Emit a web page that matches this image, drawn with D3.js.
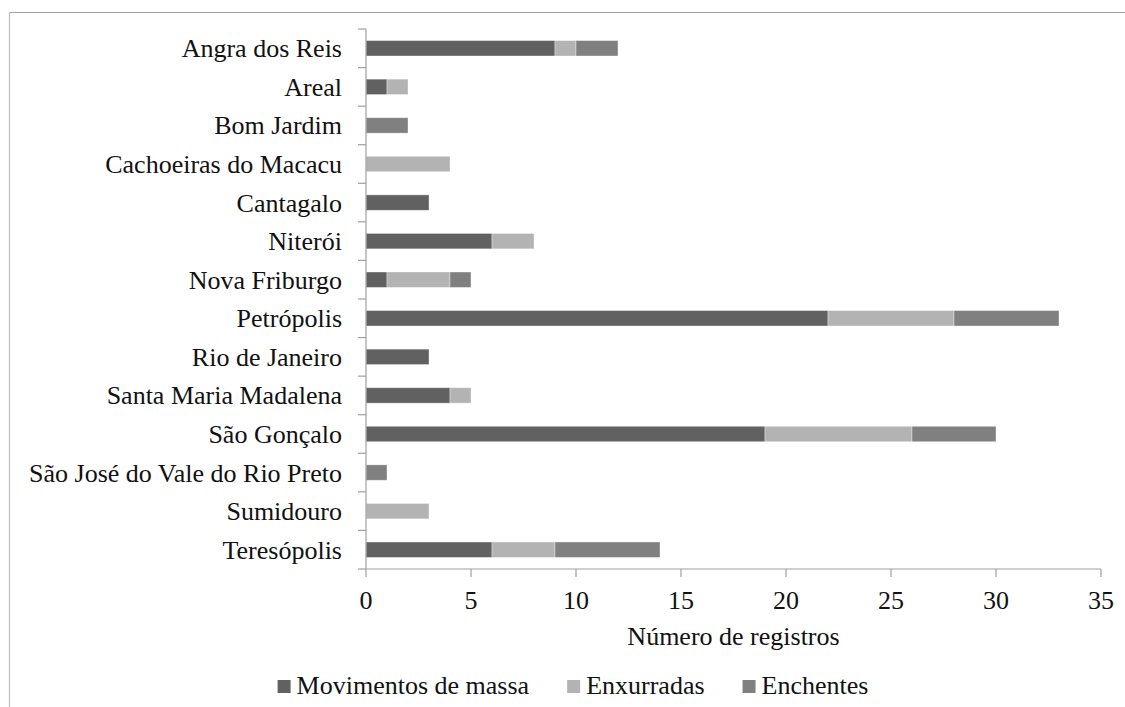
<!DOCTYPE html>
<html><head><meta charset="utf-8">
<script src="https://cdn.jsdelivr.net/npm/d3@7"></script>
<style>html,body{margin:0;padding:0;background:#fff;}
#chart text{font-family:"Liberation Serif","Times New Roman",Tinos,serif !important;}</style>
</head><body>
<svg id="chart" width="1125" height="707"></svg>
<script>
const categories = ["Angra dos Reis","Areal","Bom Jardim","Cachoeiras do Macacu","Cantagalo","Niterói","Nova Friburgo","Petrópolis","Rio de Janeiro","Santa Maria Madalena","São Gonçalo","São José do Vale do Rio Preto","Sumidouro","Teresópolis"];
const seriesNames = ["Movimentos de massa","Enxurradas","Enchentes"];
const movimentos = [9,1,0,0,3,6,1,22,3,4,19,0,0,6];
const enxurradas = [1,1,0,4,0,2,3,6,0,1,7,0,3,3];
const enchentes  = [2,0,2,0,0,0,1,5,0,0,4,1,0,5];
const xTicks = [0,5,10,15,20,25,30,35];
const xTitle = "Número de registros";
const colors = ["#616161","#b3b3b3","#7f807f"];

(function(){
const svg = d3.select("#chart");
const FF = '"Liberation Serif"';
const pLeft = 366, pRight = 1101, pTop = 29, pBottom = 569;

function txt(sel){
  return sel.attr("font-family","Liberation Serif").style("font-family",FF).attr("font-size",26).attr("fill","#111");
}

// frame (top and left edges)
svg.append("line").attr("x1",9.5).attr("x2",1125).attr("y1",12.5).attr("y2",12.5).attr("stroke","#a0a0a0").attr("stroke-width",1.2);
svg.append("line").attr("x1",9.5).attr("x2",9.5).attr("y1",12.5).attr("y2",707).attr("stroke","#bdbdbd").attr("stroke-width",1.2);

const x = d3.scaleLinear().domain([0,35]).range([pLeft,pRight]);
const y = d3.scaleBand().domain(categories).range([pTop,pBottom]).paddingInner(0.6).paddingOuter(0.3);
const band = d3.scaleBand().domain(categories).range([pTop,pBottom]);

const data = categories.map((c,i)=>({cat:c, s0:movimentos[i], s1:enxurradas[i], s2:enchentes[i]}));
const stack = d3.stack().keys(["s0","s1","s2"])(data);

svg.append("g").selectAll("g").data(stack).join("g")
  .attr("fill",(d,i)=>colors[i])
  .selectAll("rect").data(d=>d.filter(p=>p[1]-p[0]>0)).join("rect")
  .attr("x",d=>x(d[0])).attr("width",d=>x(d[1])-x(d[0]))
  .attr("y",d=>y(d.data.cat)).attr("height",y.bandwidth())
  .attr("stroke","#ffffff").attr("stroke-opacity",0.45).attr("stroke-width",0.8);

// y axis
const axisColor = "#a0a0a0";
svg.append("line").attr("x1",pLeft).attr("x2",pLeft).attr("y1",pTop).attr("y2",pBottom).attr("stroke",axisColor).attr("stroke-width",1.2);
const bounds = categories.map(c=>band(c)).concat([pBottom]);
svg.append("g").selectAll("line").data(bounds).join("line")
  .attr("x1",pLeft-8).attr("x2",pLeft).attr("y1",d=>d).attr("y2",d=>d)
  .attr("stroke",axisColor).attr("stroke-width",1.2);
categories.forEach(c=>{
  txt(svg.append("text")).attr("x",pLeft-24).attr("y",band(c)+band.bandwidth()/2+9)
    .attr("text-anchor","end").text(c);
});

// x axis
svg.append("line").attr("x1",pLeft).attr("x2",pRight).attr("y1",pBottom).attr("y2",pBottom).attr("stroke",axisColor).attr("stroke-width",1.2);
svg.append("g").selectAll("line").data(xTicks).join("line")
  .attr("x1",d=>x(d)).attr("x2",d=>x(d)).attr("y1",pBottom).attr("y2",pBottom+8)
  .attr("stroke",axisColor).attr("stroke-width",1.2);
xTicks.forEach(t=>{
  txt(svg.append("text")).attr("x",x(t)).attr("y",609).attr("text-anchor","middle").text(t);
});
txt(svg.append("text")).attr("x",(pLeft+pRight)/2).attr("y",645).attr("text-anchor","middle").text(xTitle);

// legend (centred on the whole chart area)
const widths = [];
const legendNodes = seriesNames.map((s,i)=>{
  const g = svg.append("g");
  g.append("rect").attr("width",13).attr("height",13).attr("y",680).attr("fill",colors[i]);
  const t = txt(g.append("text")).attr("x",19).attr("y",694).text(s);
  widths.push(19 + t.node().getComputedTextLength());
  return g;
});
const gap = 38;
const total = d3.sum(widths) + gap*(widths.length-1);
let cx = 573 - total/2;
legendNodes.forEach((g,i)=>{ g.attr("transform",`translate(${cx},0)`); cx += widths[i] + gap; });
})();
</script>
</body></html>
